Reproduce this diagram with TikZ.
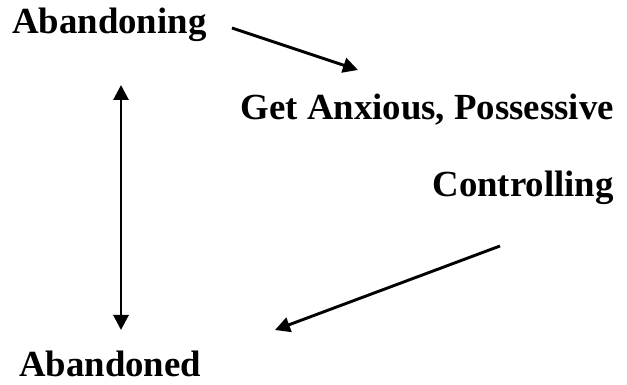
\documentclass[tikz,border=0pt]{standalone}
\usepackage{fontspec}
\setmainfont{Liberation Serif}
\usetikzlibrary{arrows.meta}
\begin{document}
\begin{tikzpicture}[x=1pt,y=1pt,
  label/.style={inner sep=0pt,font=\fontsize{36.8}{44}\selectfont\bfseries},
  link/.style={line width=2.9pt,-{Triangle[length=15pt,width=15pt]}},
  twoway/.style={line width=2.9pt,{Triangle[length=15pt,width=15pt]}-{Triangle[length=15pt,width=15pt]}}]
\useasboundingbox (0,0) rectangle (627,385);
\node[label,anchor=base west] (aing) at (12,351) {Abandoning};
\node[label,anchor=base east] (anx) at (614,265) {Get Anxious, Possessive};
\node[label,anchor=base east] (ctrl) at (614,188) {Controlling};
\node[label,anchor=base west] (aed) at (19,8) {Abandoned};
% arrow end points
\coordinate (a1s) at (232,357);
\coordinate (a1e) at (358,315);
\coordinate (vtop) at (121,300);
\coordinate (vbot) at (121,55);
\coordinate (a3s) at (500,139);
\coordinate (a3e) at (275,55);
\draw[link] (a1s) -- (a1e);
\draw[twoway] (vbot) -- (vtop);
\draw[link] (a3s) -- (a3e);
\end{tikzpicture}
\end{document}
